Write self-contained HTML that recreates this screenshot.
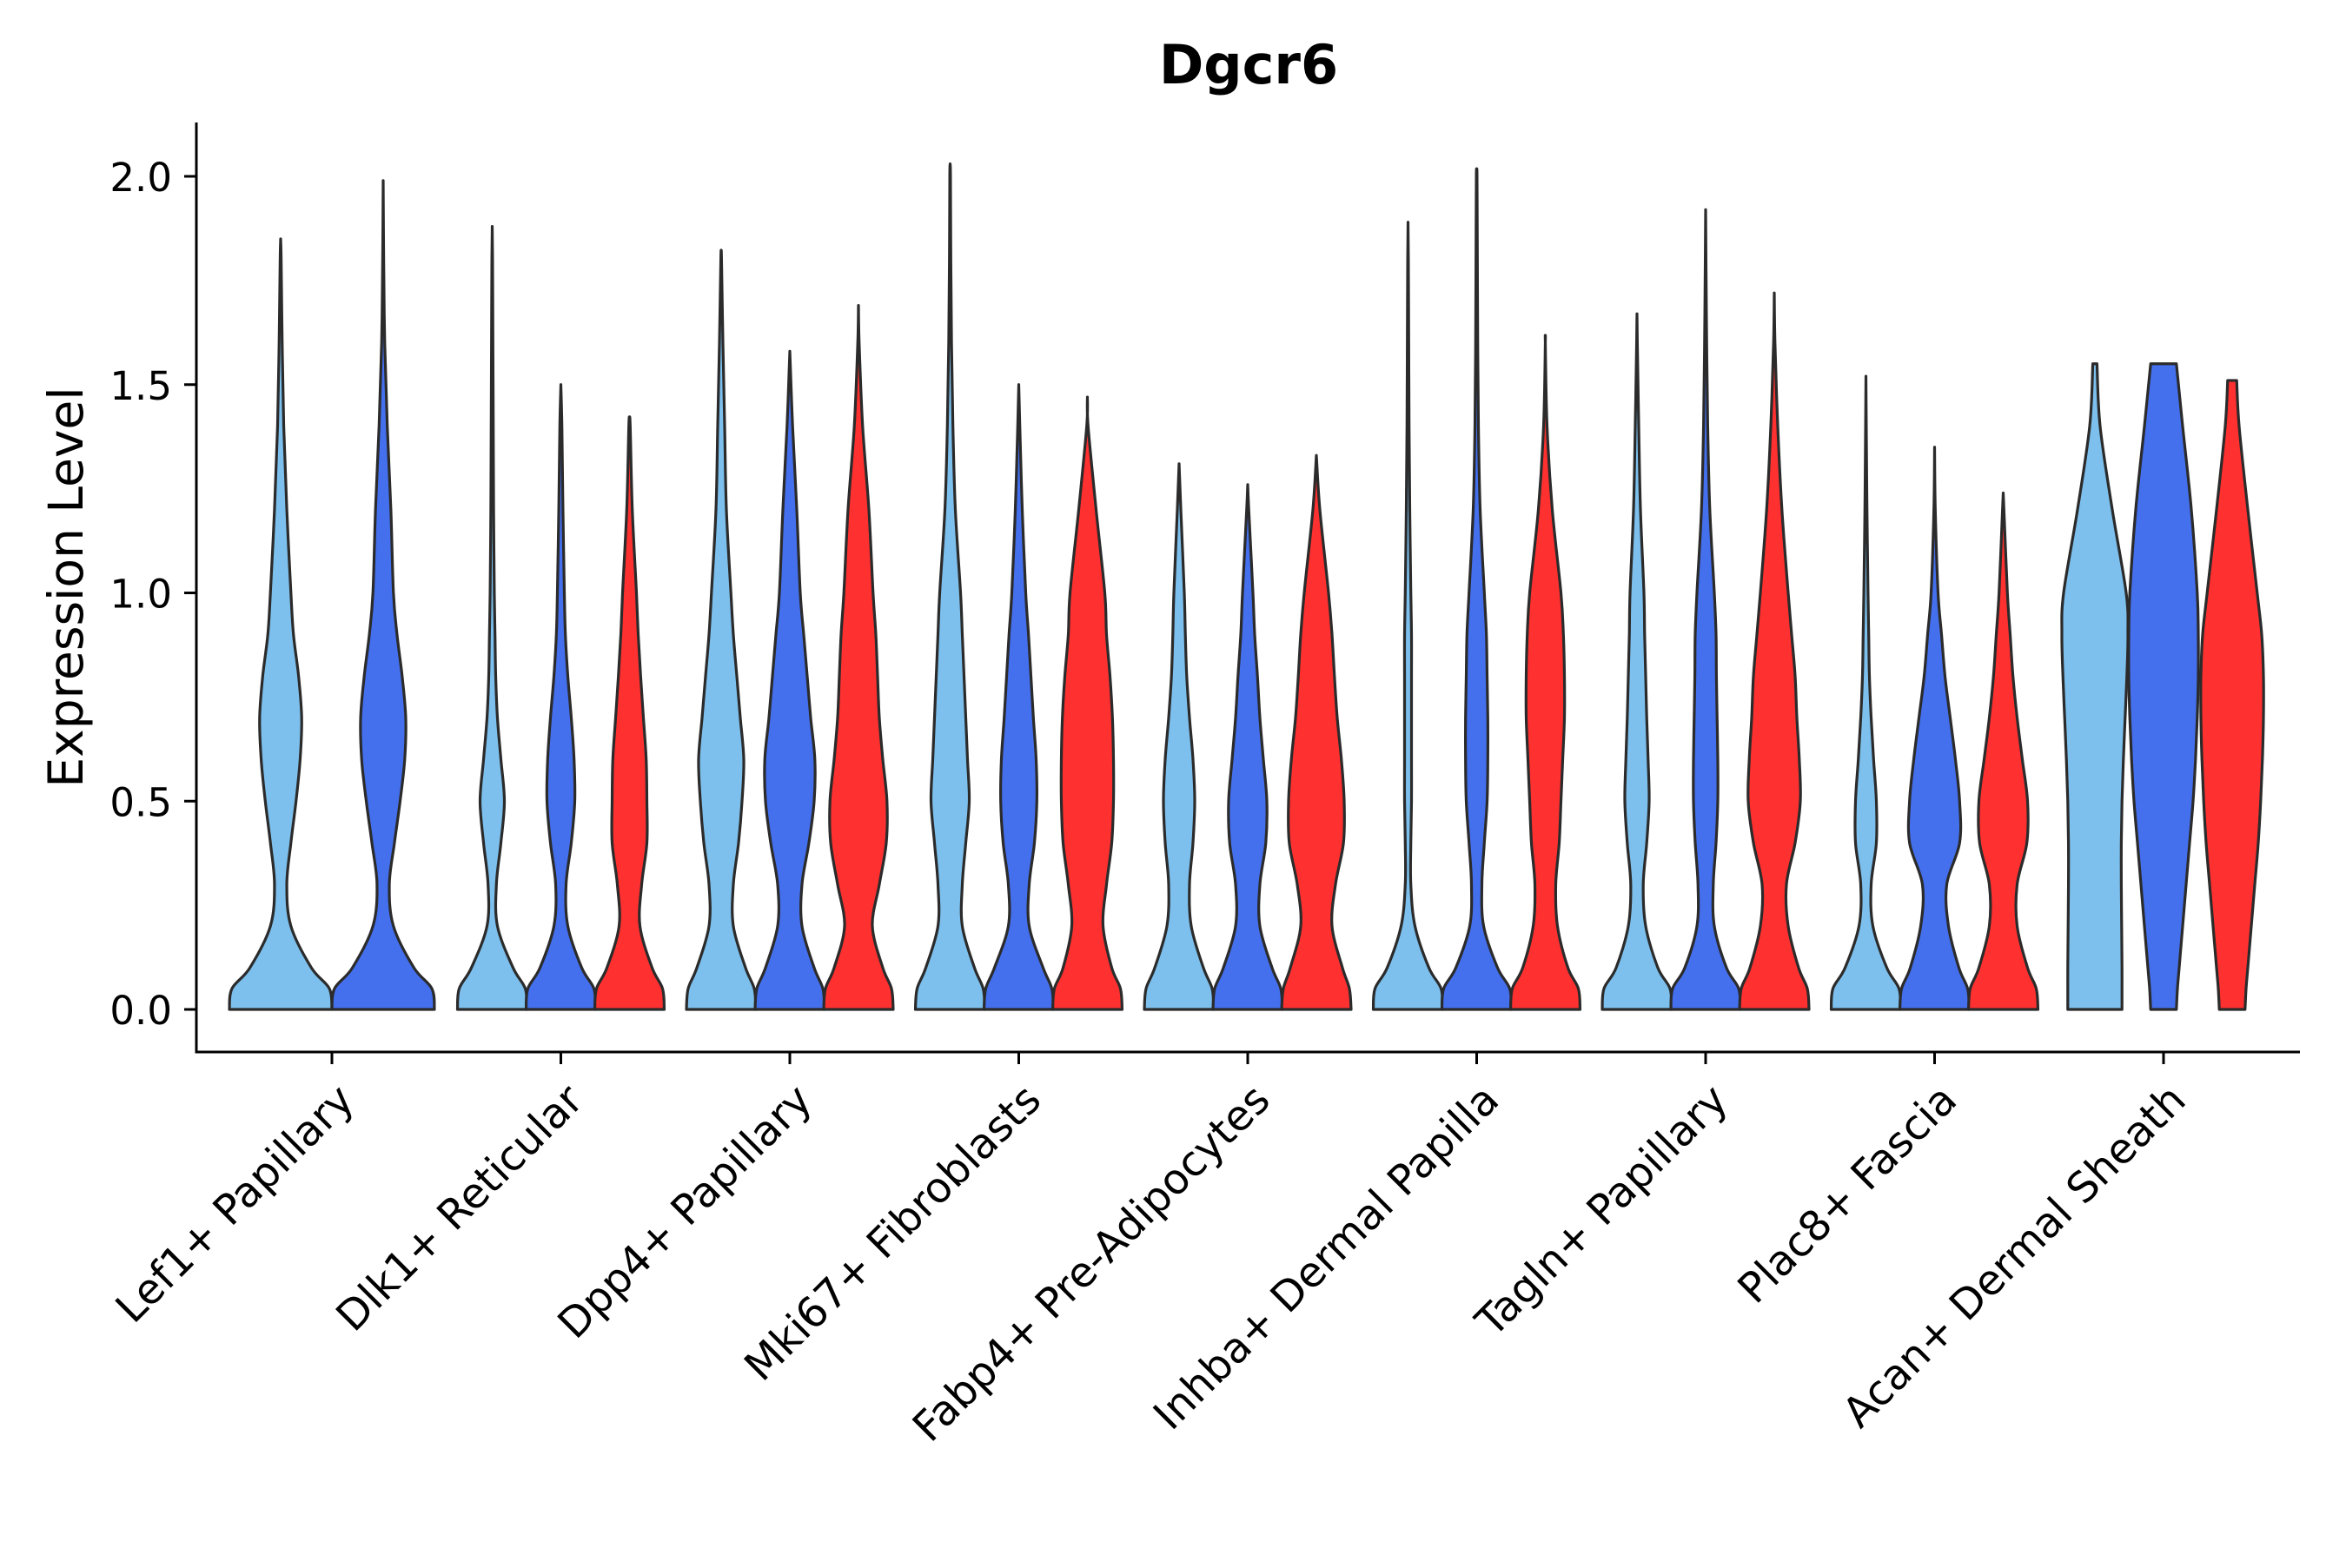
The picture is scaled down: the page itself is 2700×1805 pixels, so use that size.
<!DOCTYPE html>
<html><head><meta charset="utf-8"><style>
html,body{margin:0;padding:0;background:#fff;}
svg text{font-family:"DejaVu Sans","Liberation Sans",sans-serif;}
</style></head><body>
<svg id="chart" width="2700" height="1800" viewBox="0 0 2700 1800" xmlns="http://www.w3.org/2000/svg">
<rect width="2700" height="1800" fill="#fff"/>
<text x="1437" y="96" font-size="62" font-weight="bold" text-anchor="middle">Dgcr6</text>
<text transform="translate(95,676) rotate(-90)" font-size="55" text-anchor="middle">Expression Level</text>
<g id="plot"></g>
</svg>
<script>
const categories = ["Lef1+ Papillary","Dlk1+ Reticular","Dpp4+ Papillary","Mki67+ Fibroblasts","Fabp4+ Pre-Adipocytes","Inhba+ Dermal Papilla","Tagln+ Papillary","Plac8+ Fascia","Acan+ Dermal Sheath"];
const yTicks = [0.0, 0.5, 1.0, 1.5, 2.0];
const yTickLabels = ["0.0","0.5","1.0","1.5","2.0"];
const seriesColors = ["#7DC0ED","#4470EE","#FF3030"];
const grid = [0,0.05,0.1,0.2,0.3,0.4,0.5,0.6,0.7,0.8,0.9,1.0,1.2,1.4,1.6,1.8,2.0];
const violinMax = [
 [1.85,1.99],
 [1.88,1.50,1.42],
 [1.82,1.58,1.69],
 [2.03,1.50,1.47],
 [1.31,1.26,1.33],
 [1.89,2.01,1.61],
 [1.67,1.92,1.72],
 [1.52,1.35,1.24],
 [1.55,1.55,1.51]
];
const violinTop = [
 [0,0],[0,0,0],[0,0,0],[0,0,0],[0,0,0],[0,0,0],[0,0,0],[0,0,0],[0.06,0.37,0.13]
];
const violinWidths = [
 [[1,0.95,0.6,0.2,0.12,0.2,0.3,0.38,0.41,0.35,0.25,0.2,0.12,0.06,0.03,0.01,0],
  [1,0.95,0.6,0.2,0.12,0.22,0.33,0.42,0.44,0.37,0.27,0.2,0.15,0.08,0.03,0.01,0]],
 [[1,0.95,0.6,0.15,0.12,0.25,0.35,0.25,0.15,0.1,0.08,0.06,0.04,0.03,0.02,0.01,0],
  [1,0.95,0.6,0.2,0.15,0.3,0.4,0.38,0.3,0.2,0.13,0.1,0.06,0.03,0,0,0],
  [1,0.95,0.65,0.3,0.35,0.5,0.5,0.48,0.4,0.32,0.25,0.2,0.08,0.02,0,0,0]],
 [[1,0.95,0.7,0.35,0.35,0.5,0.6,0.65,0.55,0.45,0.35,0.28,0.15,0.1,0.05,0.01,0],
  [1,0.95,0.7,0.35,0.35,0.55,0.7,0.72,0.6,0.5,0.4,0.3,0.2,0.08,0.01,0,0],
  [1,0.95,0.7,0.4,0.6,0.8,0.82,0.7,0.6,0.55,0.5,0.42,0.3,0.12,0.02,0,0]],
 [[1,0.95,0.7,0.35,0.35,0.45,0.55,0.5,0.45,0.4,0.35,0.3,0.15,0.08,0.04,0.02,0.01],
  [1,0.95,0.7,0.3,0.3,0.45,0.52,0.5,0.42,0.35,0.28,0.2,0.1,0.03,0,0,0],
  [1,0.95,0.7,0.45,0.55,0.7,0.75,0.75,0.72,0.65,0.55,0.5,0.25,0.02,0,0,0]],
 [[1,0.95,0.7,0.35,0.3,0.4,0.45,0.4,0.3,0.22,0.18,0.15,0.05,0,0,0,0],
  [1,0.95,0.7,0.35,0.35,0.52,0.55,0.45,0.35,0.28,0.2,0.15,0.03,0,0,0,0],
  [1,0.95,0.75,0.45,0.55,0.78,0.8,0.72,0.6,0.52,0.45,0.35,0.1,0,0,0,0]],
 [[1,0.95,0.6,0.2,0.08,0.08,0.1,0.1,0.1,0.1,0.1,0.08,0.05,0.03,0.02,0.01,0],
  [1,0.95,0.6,0.2,0.15,0.22,0.3,0.32,0.32,0.3,0.28,0.22,0.1,0.05,0.03,0.02,0.01],
  [1,0.95,0.65,0.35,0.3,0.4,0.45,0.5,0.55,0.55,0.52,0.45,0.2,0.05,0,0,0]],
 [[1,0.95,0.6,0.25,0.18,0.28,0.35,0.32,0.28,0.25,0.22,0.2,0.1,0.05,0.01,0,0],
  [1,0.95,0.6,0.25,0.22,0.3,0.35,0.35,0.33,0.31,0.3,0.25,0.12,0.06,0.03,0.01,0],
  [1,0.95,0.7,0.4,0.35,0.6,0.75,0.72,0.65,0.6,0.5,0.4,0.22,0.1,0.02,0,0]],
 [[1,0.95,0.6,0.2,0.15,0.3,0.3,0.22,0.15,0.1,0.08,0.06,0.03,0.01,0,0,0],
  [1,0.95,0.7,0.4,0.35,0.72,0.72,0.6,0.45,0.3,0.2,0.1,0.02,0,0,0,0],
  [1,0.95,0.7,0.4,0.4,0.68,0.7,0.55,0.4,0.28,0.2,0.12,0.02,0,0,0,0]],
 [[0.78,0.78,0.78,0.77,0.76,0.76,0.78,0.82,0.87,0.92,0.95,0.9,0.5,0.15,0,0,0],
  [0.37,0.4,0.45,0.55,0.65,0.75,0.85,0.92,0.97,1,1,0.97,0.8,0.55,0,0,0],
  [0.37,0.4,0.45,0.55,0.65,0.75,0.82,0.87,0.9,0.9,0.85,0.72,0.45,0.2,0,0,0]]
];
const NS="http://www.w3.org/2000/svg";
const plot=document.getElementById('plot');
const x0=226, x1=2647, yTop=141, yBot=1211;
const yScale=v=>1162 - v*479.5;
const xCenter=i=>382 + i*263.5;
function mk(tag,attrs){const e=document.createElementNS(NS,tag);for(const k in attrs)e.setAttribute(k,attrs[k]);plot.appendChild(e);return e;}
function smooth(pts){
 let d=`M${pts[0][0]},${pts[0][1]}`;
 for(let i=0;i<pts.length-1;i++){
  const p0=pts[Math.max(0,i-1)],p1=pts[i],p2=pts[i+1],p3=pts[Math.min(pts.length-1,i+2)];
  const c1=[p1[0]+(p2[0]-p0[0])/6,p1[1]+(p2[1]-p0[1])/6];
  const c2=[p2[0]-(p3[0]-p1[0])/6,p2[1]-(p3[1]-p1[1])/6];
  d+=` C${c1[0]},${c1[1]} ${c2[0]},${c2[1]} ${p2[0]},${p2[1]}`;
 }
 return d;
}
categories.forEach((cat,ci)=>{
 const n=violinMax[ci].length;
 const half = n===2?59:40;
 const off = n===2?[-59,59]:[-79,0,79];
 violinMax[ci].forEach((mx,si)=>{
  const cx=xCenter(ci)+off[si];
  const w=violinWidths[ci][si];
  const prof=[];
  for(let k=0;k<grid.length;k++){ if(grid[k]<mx) prof.push([grid[k],w[k]]); }
  prof.push([mx,violinTop[ci][si]]);
  const right=prof.map(p=>[cx+p[1]*half,yScale(p[0])]);
  const left=prof.slice().reverse().map(p=>[cx-p[1]*half,yScale(p[0])]);
  let d=smooth(right);
  d+=` L${left[0][0]},${left[0][1]}`+smooth(left).replace(/^M[^C]*/,' ')+' Z';
  const path=mk('path',{d:d,fill:seriesColors[si],stroke:'#2b2b2b','stroke-width':3.2,'stroke-linejoin':'round'});
  
  
 });
 const tk=mk('line',{x1:xCenter(ci),x2:xCenter(ci),y1:yBot,y2:yBot+14,stroke:'#000','stroke-width':3});
 
 
 const t=mk('text',{transform:`translate(${xCenter(ci)+28},${yBot+58}) rotate(-45)`,'font-size':48,'text-anchor':'end'});
 t.textContent=cat;
 
 
});
yTicks.forEach((v,i)=>{
 const tk=mk('line',{x1:x0-14,x2:x0,y1:yScale(v),y2:yScale(v),stroke:'#000','stroke-width':3});
 
 
 const t=mk('text',{x:x0-28,y:yScale(v)+17,'font-size':45,'text-anchor':'end'});
 t.textContent=yTickLabels[i];
 
 
});
const ya=mk('line',{x1:x0,x2:x0,y1:yTop,y2:yBot+1.5,stroke:'#000','stroke-width':3});


const xa=mk('line',{x1:x0-1.5,x2:x1,y1:yBot,y2:yBot,stroke:'#000','stroke-width':3});


</script>
</body></html>
